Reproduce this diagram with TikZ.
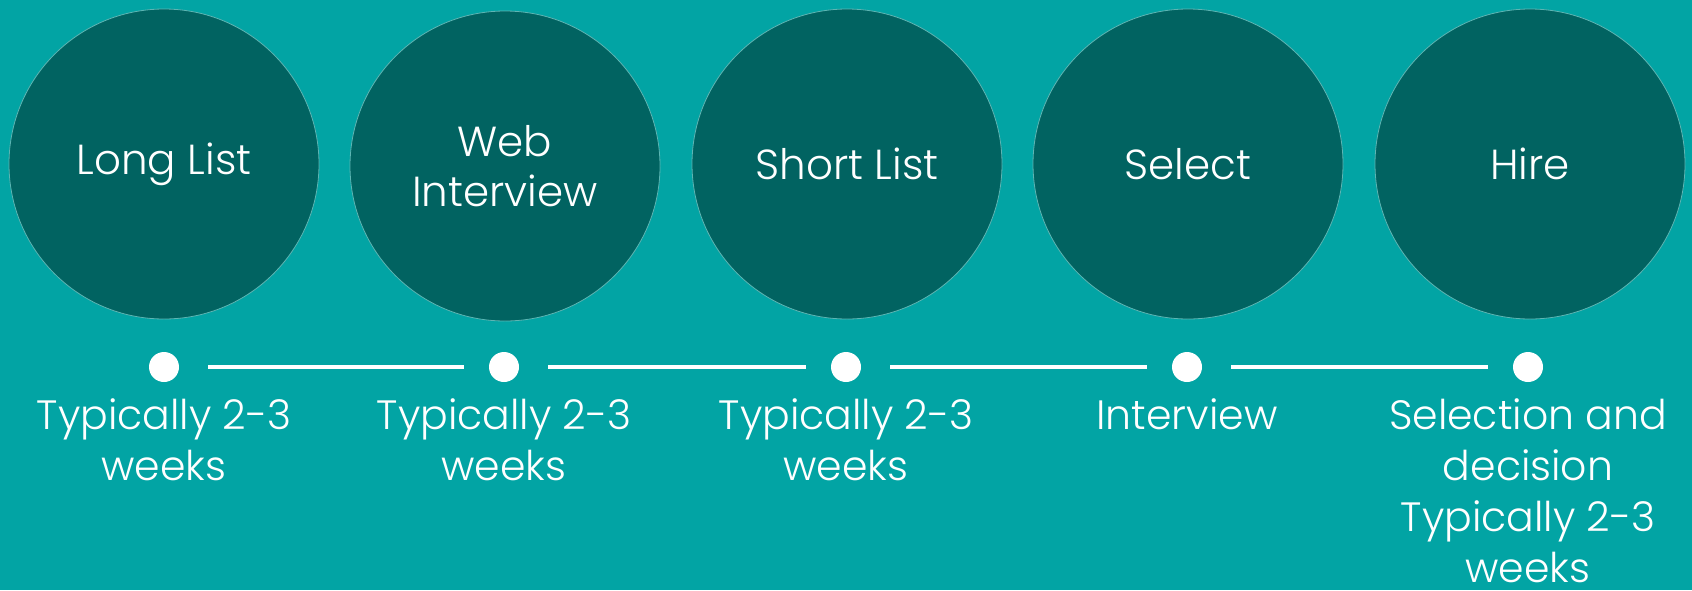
\documentclass[tikz,border=0pt]{standalone}
\usepackage{fontspec}
\setmainfont{Poppins Light}
\definecolor{bgteal}{HTML}{02A4A4}
\definecolor{darkteal}{HTML}{016361}
\definecolor{rimteal}{HTML}{5DB5B3}
\begin{document}
\begin{tikzpicture}[x=0.5pt,y=-0.5pt,
  bigc/.style={circle,fill=darkteal,draw=rimteal,line width=0.4pt,minimum size=155pt,inner sep=0pt,
    text=white,align=center,font=\fontsize{21}{25}\selectfont},
  dot/.style={circle,fill=white,minimum size=15pt,inner sep=0pt},
  link/.style={draw=white,line width=2pt},
  lbl/.style={anchor=north,inner sep=0pt,text=white,align=center,font=\fontsize{20.5}{25.5}\selectfont}]
\useasboundingbox (0,0) rectangle (1692,590);
\fill[bgteal] (0,0) rectangle (1692,590);
\node[bigc] (c1) at (164,164) {Long List};
\node[bigc] (c2) at (505,166) {Web\\Interview};
\node[bigc] (c3) at (847,164) {Short List};
\node[bigc] (c4) at (1188,164) {Select};
\node[bigc] (c5) at (1530,164) {Hire};
\node[dot] (d1) at (164,367) {};
\node[dot] (d2) at (504,367) {};
\node[dot] (d3) at (846,367) {};
\node[dot] (d4) at (1187,367) {};
\node[dot] (d5) at (1528,367) {};
\draw[link] ([xshift=14.5pt]d1.east) -- ([xshift=-12.5pt]d2.west);
\draw[link] ([xshift=14.5pt]d2.east) -- ([xshift=-12.5pt]d3.west);
\draw[link] ([xshift=14.5pt]d3.east) -- ([xshift=-12.5pt]d4.west);
\draw[link] ([xshift=14.5pt]d4.east) -- ([xshift=-12.5pt]d5.west);
\node[lbl] (l1) at (164,398) {Typically 2-3\\weeks};
\node[lbl] (l2) at (504,398) {Typically 2-3\\weeks};
\node[lbl] (l3) at (846,398) {Typically 2-3\\weeks};
\node[lbl] (l4) at (1187,398) {Interview};
\node[lbl] (l5) at (1528,398) {Selection and\\decision\\Typically 2-3\\weeks};
\end{tikzpicture}
\end{document}
